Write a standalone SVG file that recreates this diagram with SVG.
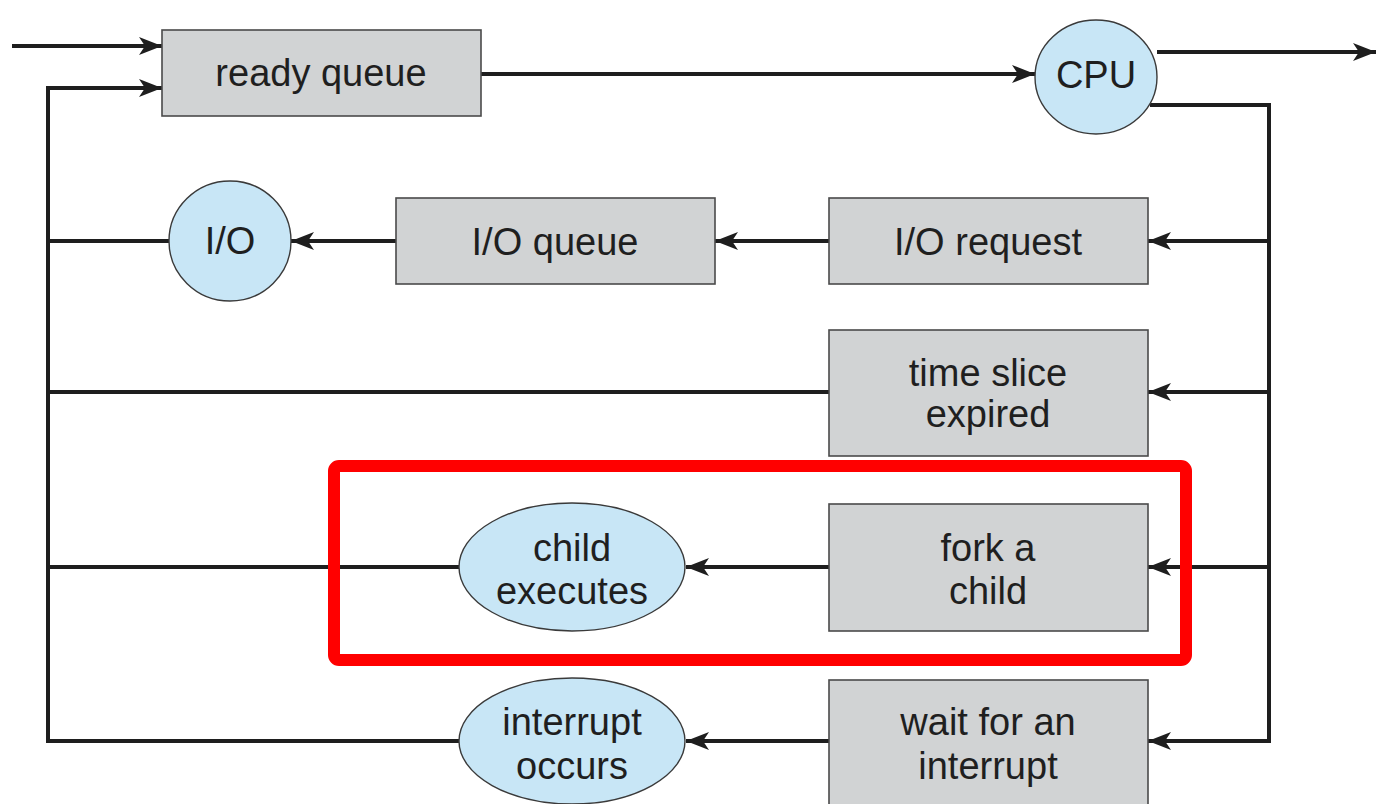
<svg xmlns="http://www.w3.org/2000/svg" width="1376" height="804" viewBox="0 0 1376 804">
  <defs>
    <marker id="arrow" markerUnits="userSpaceOnUse" markerWidth="24" markerHeight="20" viewBox="0 0 24 20" refX="23" refY="10" orient="auto">
      <path d="M0,1 L23,10 L0,19 L6,10 z" fill="#1e1e1e"/>
    </marker>
    <style>
      .box { fill: #d1d3d4; stroke: #4a4a4a; stroke-width: 1.6; }
      .oval { fill: #c8e6f6; stroke: #3a3a3a; stroke-width: 1.4; }
      .lbl { font-family: "Liberation Sans", Arial, sans-serif; font-size: 38px; fill: #1f1f1f; text-anchor: middle; }
      .wire { fill: none; stroke: #1e1e1e; stroke-width: 4; }
      .flow { fill: none; stroke: #1e1e1e; stroke-width: 4; marker-end: url(#arrow); }
    </style>
  </defs>
  <rect width="1376" height="804" fill="#ffffff"/>

  <!-- connectors -->
  <g id="connectors">
    <!-- new processes enter -->
    <line class="flow" x1="12" y1="46" x2="162" y2="46"/>
    <!-- return loop on the left -->
    <polyline class="wire" points="48,741 48,88"/>
    <line class="flow" x1="46" y1="88" x2="162" y2="88"/>
    <!-- ready queue to CPU -->
    <line class="flow" x1="481" y1="74" x2="1035" y2="74"/>
    <!-- CPU exits -->
    <line class="flow" x1="1157" y1="52" x2="1376" y2="52"/>
    <!-- CPU dispatch trunk on the right -->
    <polyline class="wire" points="1150,105 1269,105 1269,743"/>
    <line class="flow" x1="1271" y1="241" x2="1148" y2="241"/>
    <line class="flow" x1="1271" y1="392" x2="1148" y2="392"/>
    <line class="flow" x1="1271" y1="567" x2="1148" y2="567"/>
    <line class="flow" x1="1271" y1="741" x2="1148" y2="741"/>
    <!-- I/O row -->
    <line class="flow" x1="829" y1="241" x2="715" y2="241"/>
    <line class="flow" x1="396" y1="241" x2="291" y2="241"/>
    <line class="wire" x1="169" y1="241" x2="46" y2="241"/>
    <!-- time slice row -->
    <line class="wire" x1="829" y1="392" x2="46" y2="392"/>
    <!-- fork row -->
    <line class="flow" x1="829" y1="567" x2="686" y2="567"/>
    <line class="wire" x1="459" y1="567" x2="46" y2="567"/>
    <!-- interrupt row -->
    <line class="flow" x1="829" y1="741" x2="686" y2="741"/>
    <line class="wire" x1="459" y1="741" x2="46" y2="741"/>
  </g>

  <g id="ready-queue">
    <rect class="box" x="162" y="30" width="319" height="86"/>
    <text class="lbl" x="321" y="86">ready queue</text>
  </g>

  <g id="cpu">
    <ellipse class="oval" cx="1096" cy="77" rx="61" ry="57"/>
    <text class="lbl" x="1096" y="88">CPU</text>
  </g>

  <g id="io-device">
    <ellipse class="oval" cx="230" cy="241" rx="61" ry="60"/>
    <text class="lbl" x="230" y="254">I/O</text>
  </g>

  <g id="io-queue">
    <rect class="box" x="396" y="198" width="319" height="86"/>
    <text class="lbl" x="555" y="255">I/O queue</text>
  </g>

  <g id="io-request">
    <rect class="box" x="829" y="198" width="319" height="86"/>
    <text class="lbl" x="988" y="255">I/O request</text>
  </g>

  <g id="time-slice">
    <rect class="box" x="829" y="330" width="319" height="126"/>
    <text class="lbl" x="988" y="386">time slice</text>
    <text class="lbl" x="988" y="427">expired</text>
  </g>

  <g id="fork">
    <rect class="box" x="829" y="504" width="319" height="127"/>
    <text class="lbl" x="988" y="561">fork a</text>
    <text class="lbl" x="988" y="604">child</text>
  </g>

  <g id="child-executes">
    <ellipse class="oval" cx="572" cy="567" rx="113" ry="64"/>
    <text class="lbl" x="572" y="561">child</text>
    <text class="lbl" x="572" y="604">executes</text>
  </g>

  <g id="wait-interrupt">
    <rect class="box" x="829" y="680" width="319" height="140"/>
    <text class="lbl" x="988" y="735">wait for an</text>
    <text class="lbl" x="988" y="779">interrupt</text>
  </g>

  <g id="interrupt-occurs">
    <ellipse class="oval" cx="572" cy="741" rx="113" ry="63"/>
    <text class="lbl" x="572" y="735">interrupt</text>
    <text class="lbl" x="572" y="779">occurs</text>
  </g>

  <!-- highlight around the fork path -->
  <g id="highlight">
    <rect x="334" y="466" width="852" height="194" rx="5" fill="none" stroke="#ff0000" stroke-width="12"/>
  </g>
</svg>
